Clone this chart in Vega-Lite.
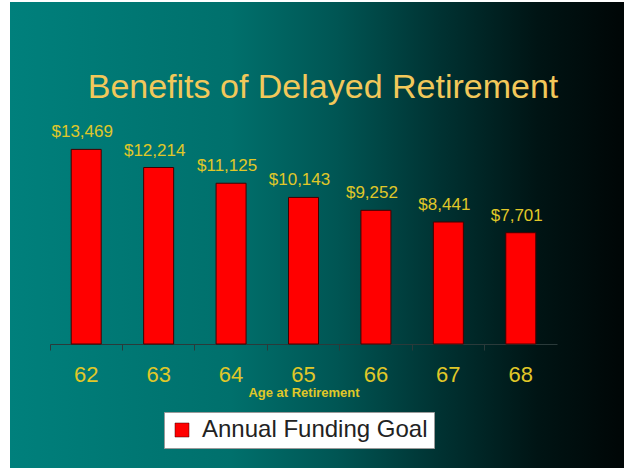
{
  "$schema": "https://vega.github.io/schema/vega-lite/v6.json",
  "autosize": "none",
  "width": 614,
  "height": 466,
  "padding": {"left": 10, "top": 2, "right": 0, "bottom": 5},
  "background": "#ffffff",
  "view": {
    "stroke": null,
    "fill": {
      "gradient": "linear",
      "x1": 0, "y1": 0, "x2": 1, "y2": 0,
      "stops": [
        {"offset": 0, "color": "#00807c"},
        {"offset": 0.36, "color": "#00706c"},
        {"offset": 0.53, "color": "#005654"},
        {"offset": 0.7, "color": "#003232"},
        {"offset": 0.86, "color": "#001414"},
        {"offset": 1, "color": "#000606"}
      ]
    }
  },
  "title": {
    "text": "Benefits of Delayed Retirement",
    "orient": "top",
    "anchor": "middle",
    "frame": "group",
    "baseline": "alphabetic",
    "offset": -130,
    "dx": 6,
    "font": "Liberation Sans",
    "fontSize": 34,
    "fontWeight": "normal",
    "color": "#f2c85a"
  },
  "data": {
    "values": [
      {"age": "62", "amount": 13469, "series": "Annual Funding Goal"},
      {"age": "63", "amount": 12214, "series": "Annual Funding Goal"},
      {"age": "64", "amount": 11125, "series": "Annual Funding Goal"},
      {"age": "65", "amount": 10143, "series": "Annual Funding Goal"},
      {"age": "66", "amount": 9252, "series": "Annual Funding Goal"},
      {"age": "67", "amount": 8441, "series": "Annual Funding Goal"},
      {"age": "68", "amount": 7701, "series": "Annual Funding Goal"}
    ]
  },
  "encoding": {
    "x": {
      "field": "age",
      "type": "ordinal",
      "sort": null,
      "scale": {"type": "band", "range": [40, 547], "paddingInner": 0, "paddingOuter": 0},
      "axis": {
        "title": "Age at Retirement",
        "orient": "bottom",
        "offset": -124,
        "bandPosition": 0,
        "labelAngle": 0,
        "labelFont": "Liberation Sans",
        "labelFontSize": 22,
        "labelColor": "#e0c828",
        "labelPadding": 14,
        "tickSize": 6,
        "tickColor": "#2a3a3a",
        "domainColor": "#2a3a3a",
        "titleFont": "Liberation Sans",
        "titleFontSize": 13,
        "titleFontWeight": "bold",
        "titleColor": "#e0c828",
        "titlePadding": 1,
        "grid": false
      }
    },
    "y": {
      "field": "amount",
      "type": "quantitative",
      "scale": {"domain": [-8581, 23668], "nice": false, "zero": false},
      "axis": null
    }
  },
  "layer": [
    {
      "mark": {"type": "bar", "width": 30, "stroke": "#400000", "strokeWidth": 1},
      "encoding": {
        "y2": {"datum": 0},
        "color": {
          "field": "series",
          "type": "nominal",
          "scale": {"range": ["#ff0000"]},
          "legend": {
            "title": null,
            "orient": "none",
            "legendX": 154,
            "legendY": 410,
            "fillColor": "#ffffff",
            "strokeColor": "#9a9a9a",
            "padding": 6,
            "symbolType": "square",
            "symbolSize": 196,
            "symbolStrokeColor": "#400000",
            "symbolStrokeWidth": 0.5,
            "symbolOpacity": 1,
            "labelFont": "Liberation Sans",
            "labelFontSize": 24,
            "labelColor": "#222222",
            "labelOffset": 8,
            "labelLimit": 400
          }
        }
      }
    },
    {
      "mark": {
        "type": "text",
        "baseline": "alphabetic",
        "align": "center",
        "dy": -12,
        "dx": -4,
        "font": "Liberation Sans",
        "fontSize": 17,
        "color": "#e0c828"
      },
      "encoding": {
        "text": {"field": "amount", "type": "quantitative", "format": "$,"}
      }
    }
  ]
}
